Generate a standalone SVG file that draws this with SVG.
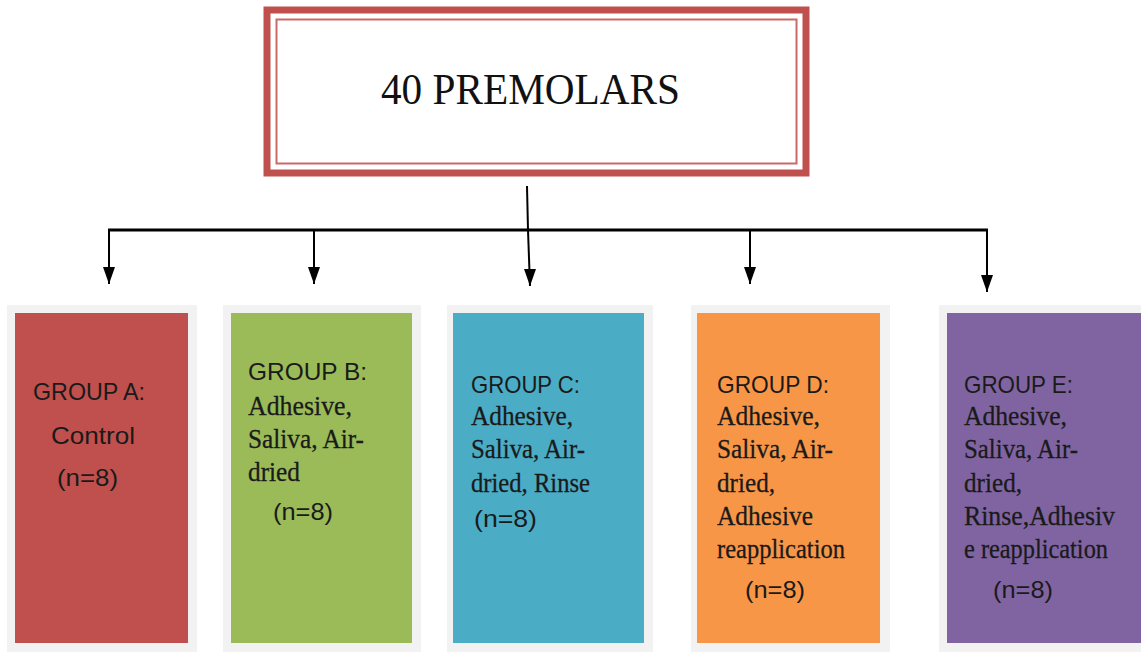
<svg xmlns="http://www.w3.org/2000/svg" width="1141" height="653" viewBox="0 0 1141 653">
<style>
.sans{font-family:"Liberation Sans",Arial,sans-serif;font-size:24px;fill:#1a1a1a}
.serif{font-family:"Liberation Serif","Times New Roman",serif;font-size:28px;fill:#1a1a1a;stroke:#1a1a1a;stroke-width:0.3}
.frame{fill:#f2f2f2}
.conn{stroke:#000;stroke-width:2;fill:none}
</style>
<defs>
<marker id="ah" viewBox="0 0 12 17" refX="6" refY="17" markerWidth="12" markerHeight="17" markerUnits="userSpaceOnUse" orient="0">
<path d="M0,0 L12,0 L6,17 Z" fill="#000"/>
</marker>
</defs>
<rect width="1141" height="653" fill="#fff"/>
<g id="top">
<rect x="267" y="10" width="539" height="163" fill="#fff" stroke="#c0504d" stroke-width="7"/>
<rect x="276.5" y="19.5" width="520" height="144" fill="none" stroke="#c0504d" stroke-width="2" opacity="0.85"/>
<text x="381" y="104" font-family="'Liberation Serif','Times New Roman',serif" font-size="44" fill="#111" textLength="299" lengthAdjust="spacingAndGlyphs">40 PREMOLARS</text>
</g>
<g id="connectors">
<line class="conn" x1="527" y1="186" x2="528" y2="230"/>
<line x1="108" y1="230" x2="988" y2="230" stroke="#000" stroke-width="3"/>
<line class="conn" x1="109" y1="230" x2="109" y2="284" marker-end="url(#ah)"/>
<line class="conn" x1="314" y1="230" x2="314" y2="284" marker-end="url(#ah)"/>
<line class="conn" x1="528" y1="230" x2="530" y2="286" marker-end="url(#ah)"/>
<line class="conn" x1="750" y1="230" x2="750" y2="284" marker-end="url(#ah)"/>
<line class="conn" x1="987" y1="230" x2="987" y2="292" marker-end="url(#ah)"/>
</g>
<g id="groupA">
<rect class="frame" x="7" y="305" width="190" height="347"/>
<rect x="15" y="313" width="173" height="330" fill="#c0504d"/>
<text class="sans" x="33" y="400" textLength="112" lengthAdjust="spacingAndGlyphs">GROUP A:</text>
<text class="sans" x="51" y="444" textLength="84" lengthAdjust="spacingAndGlyphs">Control</text>
<text class="sans" x="57" y="486" textLength="61" lengthAdjust="spacingAndGlyphs">(n=8)</text>
</g>
<g id="groupB">
<rect class="frame" x="223" y="305" width="198" height="347"/>
<rect x="231" y="313" width="181" height="330" fill="#9bbb59"/>
<text class="sans" x="248" y="380" textLength="119" lengthAdjust="spacingAndGlyphs">GROUP B:</text>
<text class="serif" x="248" y="415" textLength="104" lengthAdjust="spacingAndGlyphs">Adhesive,</text>
<text class="serif" x="248" y="448" textLength="116" lengthAdjust="spacingAndGlyphs">Saliva, Air-</text>
<text class="serif" x="248" y="481" textLength="52" lengthAdjust="spacingAndGlyphs">dried</text>
<text class="sans" x="273" y="520" textLength="60" lengthAdjust="spacingAndGlyphs">(n=8)</text>
</g>
<g id="groupC">
<rect class="frame" x="447" y="305" width="206" height="347"/>
<rect x="453" y="313" width="191" height="330" fill="#4bacc6"/>
<text class="sans" x="471" y="393" textLength="109" lengthAdjust="spacingAndGlyphs">GROUP C:</text>
<text class="serif" x="471" y="425" textLength="102" lengthAdjust="spacingAndGlyphs">Adhesive,</text>
<text class="serif" x="471" y="458" textLength="114" lengthAdjust="spacingAndGlyphs">Saliva, Air-</text>
<text class="serif" x="471" y="492" textLength="119" lengthAdjust="spacingAndGlyphs">dried, Rinse</text>
<text class="sans" x="474" y="527" textLength="63" lengthAdjust="spacingAndGlyphs">(n=8)</text>
</g>
<g id="groupD">
<rect class="frame" x="691" y="305" width="199" height="347"/>
<rect x="697" y="313" width="183" height="330" fill="#f79646"/>
<text class="sans" x="717" y="393" textLength="112" lengthAdjust="spacingAndGlyphs">GROUP D:</text>
<text class="serif" x="717" y="425" textLength="103" lengthAdjust="spacingAndGlyphs">Adhesive,</text>
<text class="serif" x="717" y="458" textLength="116" lengthAdjust="spacingAndGlyphs">Saliva, Air-</text>
<text class="serif" x="717" y="492" textLength="58" lengthAdjust="spacingAndGlyphs">dried,</text>
<text class="serif" x="717" y="525" textLength="96" lengthAdjust="spacingAndGlyphs">Adhesive</text>
<text class="serif" x="717" y="558" textLength="128" lengthAdjust="spacingAndGlyphs">reapplication</text>
<text class="sans" x="745" y="598" textLength="60" lengthAdjust="spacingAndGlyphs">(n=8)</text>
</g>
<g id="groupE">
<rect class="frame" x="939" y="305" width="202" height="347"/>
<rect x="947" y="313" width="194" height="330" fill="#8064a2"/>
<text class="sans" x="964" y="393" textLength="109" lengthAdjust="spacingAndGlyphs">GROUP E:</text>
<text class="serif" x="964" y="425" textLength="103" lengthAdjust="spacingAndGlyphs">Adhesive,</text>
<text class="serif" x="964" y="458" textLength="114" lengthAdjust="spacingAndGlyphs">Saliva, Air-</text>
<text class="serif" x="964" y="492" textLength="58" lengthAdjust="spacingAndGlyphs">dried,</text>
<text class="serif" x="964" y="525" textLength="151" lengthAdjust="spacingAndGlyphs">Rinse,Adhesiv</text>
<text class="serif" x="964" y="558" textLength="144" lengthAdjust="spacingAndGlyphs">e reapplication</text>
<text class="sans" x="993" y="598" textLength="60" lengthAdjust="spacingAndGlyphs">(n=8)</text>
</g>
</svg>
